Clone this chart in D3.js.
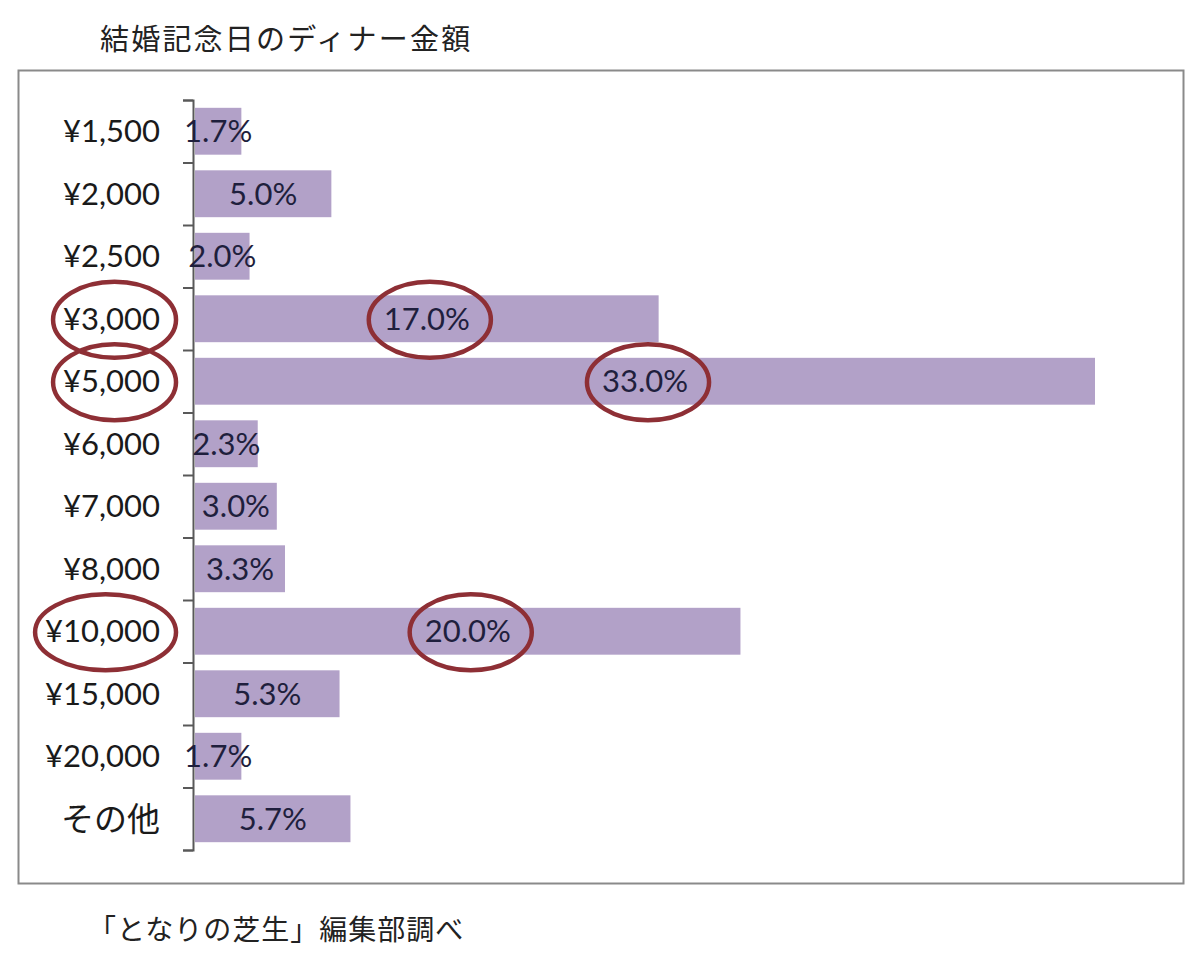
<!DOCTYPE html>
<html>
<head>
<meta charset="utf-8">
<script src="https://cdn.jsdelivr.net/npm/d3@7"></script>
<style>
  body { margin: 0; background: #fff; }
  svg { display: block; }
</style>
</head>
<body>
<svg id="chart"></svg>
<script>
// 結婚記念日のディナー金額 (横棒グラフ)
const CATEGORIES = ["¥1,500", "¥2,000", "¥2,500", "¥3,000", "¥5,000", "¥6,000",
    "¥7,000", "¥8,000", "¥10,000", "¥15,000", "¥20,000", "その他"];
const VALUES = [1.7, 5.0, 2.0, 17.0, 33.0, 2.3, 3.0, 3.3, 20.0, 5.3, 1.7, 5.7];
const CIRCLED = ["¥3,000", "¥5,000", "¥10,000"];

const TITLE = "結婚記念日のディナー金額";
const SOURCE = "「となりの芝生」編集部調べ";

const WIDTH = 1200;
const HEIGHT = 967;
const TOP = 100, BOTTOM = 850, LEFT = 195;

const data = CATEGORIES.map(function(c, i) { return { cat: c, value: VALUES[i] }; });

const svg = d3.select("#chart")
    .attr("width", WIDTH)
    .attr("height", HEIGHT);

// frame
svg.append("rect")
    .attr("x", 18.5).attr("y", 70.5)
    .attr("width", 1165).attr("height", 813)
    .attr("fill", "none")
    .attr("stroke", "#8a8a8a")
    .attr("stroke-width", 2);

svg.append("text")
    .attr("x", 100).attr("y", 50)
    .style("font-family", "'Noto Sans CJK JP'")
    .style("font-size", "29px")
    .attr("fill", "#222")
    .attr("letter-spacing", "2.2px")
    .text(TITLE);

svg.append("text")
    .attr("x", 88).attr("y", 940)
    .style("font-family", "'Noto Sans CJK JP'")
    .style("font-size", "28px")
    .attr("fill", "#222")
    .attr("letter-spacing", "1px")
    .text(SOURCE);

const x = d3.scaleLinear()
    .domain([0, 33])
    .range([LEFT, 1095]);

const y = d3.scaleBand()
    .domain(CATEGORIES)
    .range([TOP, BOTTOM])
    .paddingInner(0.25)
    .paddingOuter(0.125);

// axis with ticks on the category boundaries
const yIdx = d3.scaleLinear().domain([0, CATEGORIES.length]).range([TOP, BOTTOM]);
const axis = svg.append("g")
    .attr("transform", "translate(" + (LEFT - 2) + ",0)")
    .call(d3.axisLeft(yIdx)
        .tickValues(d3.range(CATEGORIES.length + 1))
        .tickFormat("")
        .tickSize(10));
axis.selectAll("path, line")
    .attr("stroke", "#595959")
    .attr("stroke-width", 2);

// bars
svg.selectAll(".bar")
    .data(data)
    .enter().append("rect")
    .attr("class", "bar")
    .attr("x", x(0))
    .attr("y", function(d) { return y(d.cat); })
    .attr("width", function(d) { return x(d.value) - x(0); })
    .attr("height", y.bandwidth())
    .attr("fill", "#b2a1c8");

// value labels
const valueLabels = svg.selectAll(".val")
    .data(data)
    .enter().append("text")
    .attr("class", "val")
    .attr("x", function(d) { return (x(0) + x(d.value)) / 2; })
    .attr("y", function(d) { return y(d.cat) + y.bandwidth() / 2; })
    .attr("dy", "0.36em")
    .attr("text-anchor", "middle")
    .style("font-family", "Lato, 'Open Sans', sans-serif")
    .style("font-size", "31px")
    .attr("fill", "#1f1f3d")
    .text(function(d) { return d.value.toFixed(1) + "%"; });

// category labels
const catLabels = svg.selectAll(".cat")
    .data(data)
    .enter().append("text")
    .attr("class", "cat")
    .attr("x", 160)
    .attr("y", function(d) { return y(d.cat) + y.bandwidth() / 2; })
    .attr("dy", "0.36em")
    .attr("text-anchor", "end")
    .style("font-family", function(d) { return d.cat === "その他" ? "'Noto Sans CJK JP'" : "Lato, 'Open Sans', sans-serif"; })
    .style("font-size", function(d) { return d.cat === "その他" ? "33px" : "31px"; })
    .attr("fill", "#1a1a1a")
    .text(function(d) { return d.cat; });

// red ellipses round the highlighted rows
function circleLabels(sel, pad) {
    sel.filter(function(d) { return CIRCLED.indexOf(d.cat) >= 0; })
        .each(function(d) {
            const b = this.getBBox();
            svg.append("ellipse")
                .attr("cx", b.x + b.width / 2 + 3)
                .attr("cy", y(d.cat) + y.bandwidth() / 2 + 1)
                .attr("rx", b.width / 2 + pad)
                .attr("ry", 38)
                .attr("fill", "none")
                .attr("stroke", "#8e2f35")
                .attr("stroke-width", 4.5);
        });
}
circleLabels(catLabels, 13);
circleLabels(valueLabels, 18);
</script>
</body>
</html>
